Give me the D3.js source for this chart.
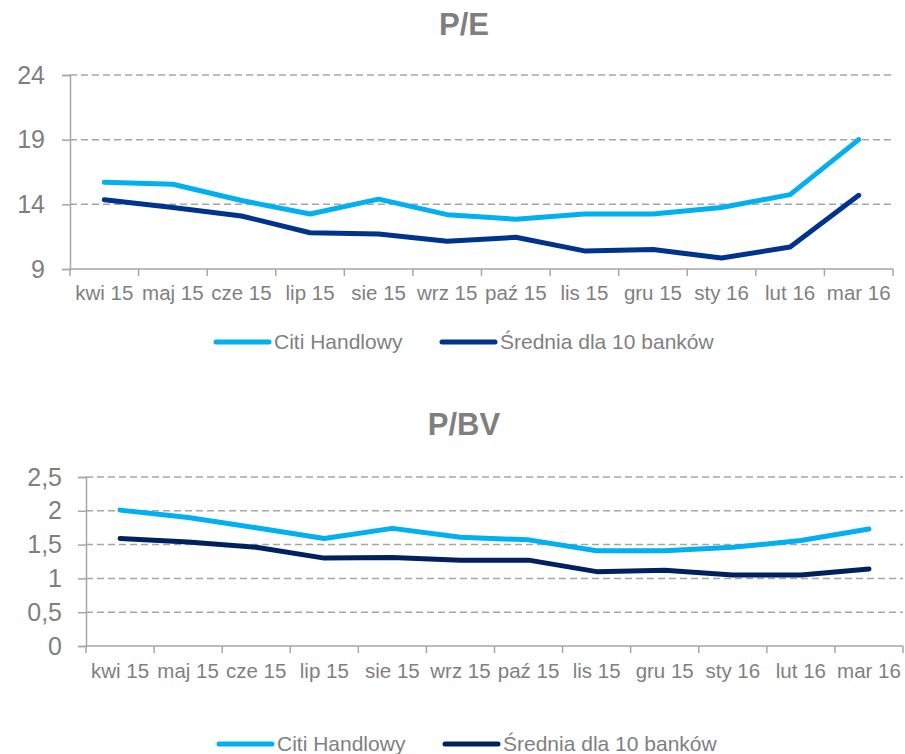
<!DOCTYPE html>
<html>
<head>
<meta charset="utf-8">
<script src="https://cdn.jsdelivr.net/npm/d3@7"></script>
<style>
  body { margin: 0; background: #fff; }
  svg text { font-family: "Liberation Sans", Arial, sans-serif; fill: #7f7f7f; }
</style>
</head>
<body>
<div id="chart"></div>
<script>
const months = ["kwi 15", "maj 15", "cze 15", "lip 15", "sie 15", "wrz 15",
  "paź 15", "lis 15", "gru 15", "sty 16", "lut 16", "mar 16"];
const seriesNames = ["Citi Handlowy", "Średnia dla 10 banków"];

const peCiti = [15.7, 15.55, 14.3, 13.25, 14.4, 13.2, 12.85, 13.25, 13.25, 13.75, 14.75, 19.0];
const peAvg = [14.35, 13.75, 13.1, 11.8, 11.7, 11.15, 11.45, 10.4, 10.5, 9.85, 10.7, 14.7];
const peTicks = [9, 14, 19, 24];

const pbvCiti = [2.01, 1.9, 1.75, 1.59, 1.74, 1.61, 1.57, 1.41, 1.41, 1.46, 1.56, 1.73];
const pbvAvg = [1.59, 1.54, 1.46, 1.3, 1.31, 1.27, 1.27, 1.1, 1.12, 1.05, 1.05, 1.14];
const pbvTicks = [0, 0.5, 1, 1.5, 2, 2.5];

const svg = d3.select("#chart").append("svg")
  .attr("width", 905).attr("height", 754);

function drawChart(opt) {
  const g = svg.append("g");

  g.append("text")
    .attr("x", 464).attr("y", opt.titleY)
    .attr("text-anchor", "middle")
    .style("font-size", "31px").style("font-weight", "bold")
    .text(opt.title);

  const x = d3.scaleBand().domain(months).range([opt.left, opt.right]);
  const y = d3.scaleLinear().domain(opt.domain).range([opt.bottom, opt.top]);

  // dashed gridlines
  g.selectAll(".grid")
    .data(opt.ticks.filter((t) => t !== opt.domain[0]))
    .enter().append("line")
    .attr("x1", opt.left).attr("x2", opt.right)
    .attr("y1", (d) => y(d)).attr("y2", (d) => y(d))
    .attr("stroke", "#a6a6a6").attr("stroke-width", 1.5)
    .attr("stroke-dasharray", "7,4");

  const yAxis = g.append("g")
    .attr("transform", `translate(${opt.left},0)`)
    .call(d3.axisLeft(y).tickValues(opt.ticks).tickSize(8).tickPadding(opt.yPad)
      .tickFormat((d) => String(d).replace(".", ",")));
  yAxis.selectAll("text").style("font-size", "25px");
  yAxis.selectAll("line").attr("stroke", "#a6a6a6").attr("stroke-width", 1.5);
  yAxis.select(".domain").attr("stroke", "#a6a6a6").attr("stroke-width", 1.5);

  const xAxis = g.append("g")
    .attr("transform", `translate(0,${opt.bottom})`)
    .call(d3.axisBottom(x).tickSize(0).tickPadding(opt.xPad));
  xAxis.selectAll("text").style("font-size", "20.5px");
  xAxis.select(".domain").remove();

  // tick marks at band boundaries
  const bounds = months.map((m) => x(m)).concat([opt.right]);
  g.selectAll(".xt")
    .data(bounds)
    .enter().append("line")
    .attr("x1", (d) => d).attr("x2", (d) => d)
    .attr("y1", opt.bottom).attr("y2", opt.bottom + 7)
    .attr("stroke", "#a6a6a6").attr("stroke-width", 1.5);
  g.append("line")
    .attr("x1", opt.left).attr("x2", opt.right)
    .attr("y1", opt.bottom).attr("y2", opt.bottom)
    .attr("stroke", "#a6a6a6").attr("stroke-width", 1.5);

  const line = d3.line()
    .x((d, i) => x(months[i]) + x.bandwidth() / 2)
    .y((d) => y(d));

  opt.series.forEach((s, i) => {
    g.append("path")
      .datum(s)
      .attr("fill", "none")
      .attr("stroke", opt.colors[i])
      .attr("stroke-width", 5)
      .attr("stroke-linecap", "round")
      .attr("stroke-linejoin", "round")
      .attr("d", line);
  });

  // legend
  const legendX = [opt.legendX, opt.legendX + 226];
  seriesNames.forEach((name, i) => {
    g.append("line")
      .attr("x1", legendX[i]).attr("x2", legendX[i] + 53)
      .attr("y1", opt.legendY).attr("y2", opt.legendY)
      .attr("stroke", opt.colors[i]).attr("stroke-width", 5)
      .attr("stroke-linecap", "round");
    g.append("text")
      .attr("x", legendX[i] + 58).attr("y", opt.legendY + 7)
      .style("font-size", "21px")
      .text(name);
  });
}

drawChart({
  title: "P/E", titleY: 35,
  left: 70, right: 893, top: 75, bottom: 269,
  domain: [9, 24], ticks: peTicks, yPad: 17, xPad: 16,
  series: [peCiti, peAvg], colors: ["#00b0f0", "#00338d"],
  legendX: 216, legendY: 342
});

drawChart({
  title: "P/BV", titleY: 435,
  left: 86, right: 903, top: 477, bottom: 646,
  domain: [0, 2.5], ticks: pbvTicks, yPad: 16, xPad: 17,
  series: [pbvCiti, pbvAvg], colors: ["#00b0f0", "#002060"],
  legendX: 219, legendY: 744
});
</script>
</body>
</html>
